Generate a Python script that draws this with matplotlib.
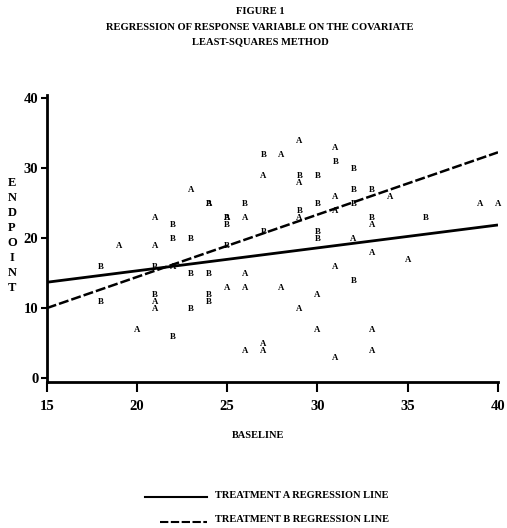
import matplotlib
matplotlib.use("Agg")
import matplotlib.pyplot as plt
from matplotlib.lines import Line2D

# ---- data ----
a_x = [19, 20, 21, 21, 21, 21, 22, 23, 24, 25, 25, 26, 26, 26, 26, 27, 27, 27, 28, 28,
       29, 29, 29, 29, 30, 30, 31, 31, 31, 31, 31, 32, 33, 33, 33, 33, 34, 35, 39, 40]
a_y = [19, 7, 23, 19, 11, 10, 16, 27, 25, 23, 13, 23, 15, 13, 4, 29, 5, 4, 32, 13,
       34, 28, 23, 10, 12, 7, 33, 26, 24, 16, 3, 20, 22, 18, 7, 4, 26, 17, 25, 25]
b_x = [18, 18, 21, 21, 22, 22, 22, 23, 23, 23, 24, 24, 24, 24, 25, 25, 25, 26, 27, 27,
       29, 29, 30, 30, 30, 30, 31, 32, 32, 32, 32, 33, 33, 36]
b_y = [16, 11, 16, 12, 22, 20, 6, 20, 15, 10, 25, 15, 12, 11, 23, 22, 19, 25, 32, 21,
       29, 24, 29, 25, 21, 20, 31, 30, 27, 25, 14, 27, 23, 23]
line_x = [15, 40]
line_a_y = [13.7, 21.9]
line_b_y = [10.0, 32.3]
x_ticks = [15, 20, 25, 30, 35, 40]
y_ticks = [0, 10, 20, 30, 40]
title_lines = ["FIGURE 1", "REGRESSION OF RESPONSE VARIABLE ON THE COVARIATE",
               "LEAST-SQUARES METHOD"]
x_label = "BASELINE"
y_label = "ENDPOINT"
legend_labels = ["TREATMENT A REGRESSION LINE", "TREATMENT B REGRESSION LINE"]

FONT = "Liberation Serif"
W, H = 507, 528
fig = plt.figure(figsize=(W / 100, H / 100), dpi=100)
ax = fig.add_axes([46.7 / W, 1 - 381.5 / H, (498 - 46.7) / W, (381.5 - 95) / H])
ax.set_xlim(15, 40)
ax.set_ylim(-0.5, 40.5)

for s in ["top", "right"]:
    ax.spines[s].set_visible(False)
for s in ["left", "bottom"]:
    ax.spines[s].set_linewidth(2.0)
    ax.spines[s].set_color("black")

ax.set_xticks(x_ticks)
ax.set_yticks(y_ticks)
ax.tick_params(axis="x", direction="out", length=7, width=1.5, pad=6)
ax.tick_params(axis="y", direction="out", length=4, width=1.5, pad=2)
for lab in ax.get_xticklabels() + ax.get_yticklabels():
    lab.set_fontfamily(FONT)
    lab.set_fontweight("bold")
    lab.set_fontsize(10.5)

ax.plot(line_x, line_a_y, color="black", lw=2.0, solid_capstyle="butt")
ax.plot(line_x, line_b_y, color="black", lw=1.8, linestyle=(0, (4, 1.2)))

for x, y in zip(a_x, a_y):
    ax.text(x, y, "A", ha="center", va="center_baseline", fontsize=6.3, fontweight="bold",
            family=FONT, color="black")
for x, y in zip(b_x, b_y):
    ax.text(x, y, "B", ha="center", va="center_baseline", fontsize=6.3, fontweight="bold",
            family=FONT, color="black")

# titles
for i, t in enumerate(title_lines):
    fig.text(260 / W, 1 - (12 + 15 * i) / H, t, ha="center", va="center",
             fontsize=7.6, fontweight="bold", family=FONT)

# x label
fig.text(258 / W, 1 - 435 / H, x_label, ha="center", va="center",
         fontsize=7.5, fontweight="bold", family=FONT)

# y label stacked letters
for i, ch in enumerate(y_label):
    fig.text(12 / W, 1 - (183 + 15 * i) / H, ch, ha="center", va="center",
             fontsize=9, fontweight="bold", family=FONT)

# legend
leg_y = [495, 520]
leg_x0 = [145, 160]
styles = ["-", (0, (4, 1.2))]
for lab, y, x0, st in zip(legend_labels, leg_y, leg_x0, styles):
    fig.add_artist(Line2D([x0 / W, 207 / W], [1 - (y + 2) / H, 1 - (y + 2) / H],
                          color="black", lw=1.5, linestyle=st))
    fig.text(215 / W, 1 - y / H, lab, ha="left", va="center",
             fontsize=7.5, fontweight="bold", family=FONT)

fig.savefig("out.png", dpi=100, facecolor="white")
